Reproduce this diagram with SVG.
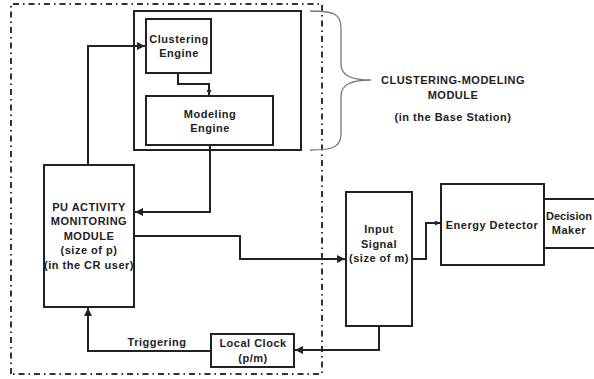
<svg xmlns="http://www.w3.org/2000/svg" width="594" height="379" viewBox="0 0 594 379">
<style>
.box{fill:none;stroke:#222;stroke-width:2}
.conn{fill:none;stroke:#222;stroke-width:2}
.t{font-family:"Liberation Sans",Arial,sans-serif;font-weight:bold;font-size:11px;letter-spacing:0.5px;fill:#222;text-anchor:middle}
</style>
<defs>
<marker id="arr" viewBox="0 0 8 8" refX="8" refY="4" markerWidth="8" markerHeight="8" markerUnits="userSpaceOnUse" orient="auto">
<path d="M0,0 L8,4 L0,8 z" fill="#222"/>
</marker>
<marker id="arrS" viewBox="0 0 6 6" refX="6" refY="3" markerWidth="5" markerHeight="5" markerUnits="userSpaceOnUse" orient="auto">
<path d="M0,0 L6,3 L0,6 z" fill="#222"/>
</marker>
</defs>
<rect width="594" height="379" fill="#fff"/>

<g id="cr-boundary">
<path d="M11,374 L11,4 L322,4 L322,374 L11,374" fill="none" stroke="#333" stroke-width="2" stroke-dasharray="6 4 1.5 4"/>
</g>

<g id="clustering-modeling-module">
<rect class="box" x="134" y="11" width="167" height="139"/>
</g>

<g id="clustering-engine">
<rect class="box" x="146" y="19" width="65" height="54"/>
<text class="t" x="179" y="43">Clustering</text>
<text class="t" x="179" y="57">Engine</text>
</g>

<g id="modeling-engine">
<rect class="box" x="146" y="96" width="127" height="49"/>
<text class="t" x="210" y="118">Modeling</text>
<text class="t" x="210" y="132">Engine</text>
</g>

<g id="module-label">
<path d="M310,11 C334,11 341,14 341,28 L341,64 C341,76 352,80 371,80 C352,80 341,84 341,96 L341,133 C341,147 334,150 310,150" fill="none" stroke="#777" stroke-width="1.3"/>
<text class="t" x="453" y="84">CLUSTERING-MODELING</text>
<text class="t" x="453" y="99">MODULE</text>
<text class="t" x="453" y="121">(in the Base Station)</text>
</g>

<g id="pu-activity-monitoring">
<rect class="box" x="44" y="165" width="90" height="142"/>
<text class="t" x="89" y="211">PU ACTIVITY</text>
<text class="t" x="89" y="225">MONITORING</text>
<text class="t" x="89" y="240">MODULE</text>
<text class="t" x="89" y="254">(size of p)</text>
<text class="t" x="89" y="269">(in the CR user)</text>
</g>

<g id="input-signal">
<rect class="box" x="346" y="192" width="66" height="134"/>
<text class="t" x="379" y="233">Input</text>
<text class="t" x="379" y="248">Signal</text>
<text class="t" x="379" y="262">(size of m)</text>
</g>

<g id="energy-detector">
<rect class="box" x="441" y="184" width="103" height="81"/>
<text class="t" x="492" y="229">Energy Detector</text>
</g>

<g id="decision-maker">
<path class="box" d="M600,199 L544,199 L544,248 L600,248"/>
<text class="t" x="569" y="220" style="letter-spacing:0">Decision</text>
<text class="t" x="569" y="234">Maker</text>
</g>

<g id="local-clock">
<rect class="box" x="211" y="334" width="83" height="33"/>
<text class="t" x="253" y="347">Local Clock</text>
<text class="t" x="253" y="362">(p/m)</text>
</g>

<g id="connectors">
<path class="conn" d="M88,165 L88,46 L145,46" marker-end="url(#arr)"/>
<path class="conn" d="M178,73 L178,84 L209,84 L209,95" marker-end="url(#arrS)"/>
<path class="conn" d="M210,145 L210,212 L135,212" marker-end="url(#arr)"/>
<path class="conn" d="M134,236 L240,236 L240,259 L345,259" marker-end="url(#arr)"/>
<path class="conn" d="M412,259 L426,259 L426,223 L440,223" marker-end="url(#arrS)"/>
<path class="conn" d="M379,326 L379,350 L295,350" marker-end="url(#arr)"/>
<path class="conn" d="M211,351 L88,351 L88,308" marker-end="url(#arr)"/>
<text class="t" x="157" y="346">Triggering</text>
</g>
</svg>
